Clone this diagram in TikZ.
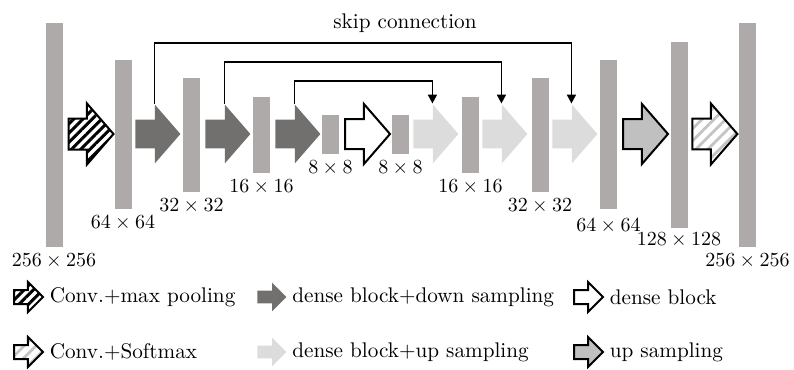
\documentclass[tikz,border=0pt]{standalone}
\usetikzlibrary{arrows.meta,positioning,calc,shapes.arrows,patterns.meta}
\definecolor{bargray}{HTML}{AEAAAA}
\definecolor{downgray}{HTML}{72706E}
\definecolor{uplight}{HTML}{DCDCDC}
\definecolor{upsamp}{HTML}{C0C0C0}
\definecolor{hatchlight}{HTML}{C4C4C4}

\begin{document}
\begin{tikzpicture}[x=0.5pt,y=-0.5pt,
  bar/.style={fill=bargray,minimum width=8.5pt,minimum height=#1,inner sep=0pt},
  blockarrow/.style={single arrow,minimum height=22.5pt,inner xsep=0pt,inner ysep=7pt,
    single arrow head extend=7.5pt,single arrow tip angle=98,anchor=tail},
  legarrow/.style={single arrow,minimum height=14.5pt,inner xsep=0pt,inner ysep=3pt,
    single arrow head extend=4pt,single arrow tip angle=90,anchor=tail},
  convpool/.style={draw=black,line width=1pt,
    pattern={Lines[angle=45,distance=3.3pt,line width=1.5pt]},pattern color=black},
  convsoft/.style={draw=black,line width=1pt,
    pattern={Lines[angle=45,distance=4.2pt,line width=1.4pt]},pattern color=hatchlight},
  densedown/.style={fill=downgray},
  denseup/.style={fill=uplight},
  dense/.style={draw=black,line width=1pt,fill=white},
  upsampling/.style={draw=black,line width=1pt,fill=upsamp},
  size/.style={font=\fontsize{10}{12}\selectfont,inner sep=1pt},
  legtext/.style={font=\fontsize{10.6}{12}\selectfont,inner sep=1pt,anchor=west},
  skip/.style={line width=0.9pt,-{Triangle[length=4.5pt,width=4.5pt]}},
]
  \useasboundingbox (0,0) rectangle (794,370);

  % feature maps
  \node[bar=112pt] (b1) at (54,134.5) {};
  \node[bar=74.5pt] (b2) at (123,134.5) {};
  \node[bar=57pt] (b3) at (191.5,134.5) {};
  \node[bar=38pt] (b4) at (261.5,134.5) {};
  \node[bar=19.5pt] (b5) at (330.5,134.5) {};
  \node[bar=19.5pt] (b6) at (400.5,134.5) {};
  \node[bar=38pt] (b7) at (470.5,134.5) {};
  \node[bar=57pt] (b8) at (540,134.5) {};
  \node[bar=74.5pt] (b9) at (608.5,134.5) {};
  \node[bar=93pt] (b10) at (679,134.5) {};
  \node[bar=112pt] (b11) at (747.5,134.5) {};

  \node[size,below=2pt of b1] (s1) {$256\times256$};
  \node[size,below=2pt of b2] (s2) {$64\times64$};
  \node[size,below=2pt of b3] (s3) {$32\times32$};
  \node[size,below=2pt of b4] (s4) {$16\times16$};
  \node[size,below=2pt of b5] (s5) {$8\times8$};
  \node[size,below=2pt of b6] (s6) {$8\times8$};
  \node[size,below=2pt of b7] (s7) {$16\times16$};
  \node[size,below=2pt of b8] (s8) {$32\times32$};
  \node[size,below=3.5pt of b9] (s9) {$64\times64$};
  \node[size,below=1pt of b10] (s10) {$128\times128$};
  \node[size,below=2pt of b11] (s11) {$256\times256$};

  % operations
  \node[blockarrow,convpool] (conv) at (67,134) {};
  \node[blockarrow,densedown] (dn1) at (135,134) {};
  \node[blockarrow,densedown] (dn2) at (205,134) {};
  \node[blockarrow,densedown] (dn3) at (275,134) {};
  \node[blockarrow,dense] (db) at (344,134) {};
  \node[blockarrow,denseup] (up1) at (413,134) {};
  \node[blockarrow,denseup] (up2) at (482,134) {};
  \node[blockarrow,denseup] (up3) at (552,134) {};
  \node[blockarrow,upsampling] (us) at (622,134) {};
  \node[blockarrow,convsoft] (soft) at (691,134) {};

  % skip connections
  \coordinate (lvl1) at (0,43);
  \coordinate (lvl2) at (0,62);
  \coordinate (lvl3) at (0,81);
  \draw[skip] (dn1.before tip) -- (dn1.before tip |- lvl1) -| (up3.before tip);
  \draw[skip] (dn2.before tip) -- (dn2.before tip |- lvl2) -| (up2.before tip);
  \draw[skip] (dn3.before tip) -- (dn3.before tip |- lvl3) -| (up1.before tip);
  \node[font=\fontsize{10.6}{12}\selectfont] (skiplbl) at (405,23) {skip connection};

  % legend
  \node[legarrow,convpool] (la1) at (13,297) {};
  \node[legtext,right=1.5pt of la1] (lt1) {Conv.+max pooling};
  \node[legarrow,densedown] (la2) at (257,297) {};
  \node[legtext,right=1.5pt of la2] (lt2) {dense block+down sampling};
  \node[legarrow,dense] (la3) at (573,297) {};
  \node[legtext,right=1.5pt of la3] (lt3) {dense block};
  \node[legarrow,convsoft] (la4) at (13,352) {};
  \node[legtext,right=1.5pt of la4] (lt4) {Conv.+Softmax};
  \node[legarrow,denseup] (la5) at (257,352) {};
  \node[legtext,right=1.5pt of la5] (lt5) {dense block+up sampling};
  \node[legarrow,upsampling] (la6) at (573,352) {};
  \node[legtext,right=1.5pt of la6] (lt6) {up sampling};
\end{tikzpicture}
\end{document}
